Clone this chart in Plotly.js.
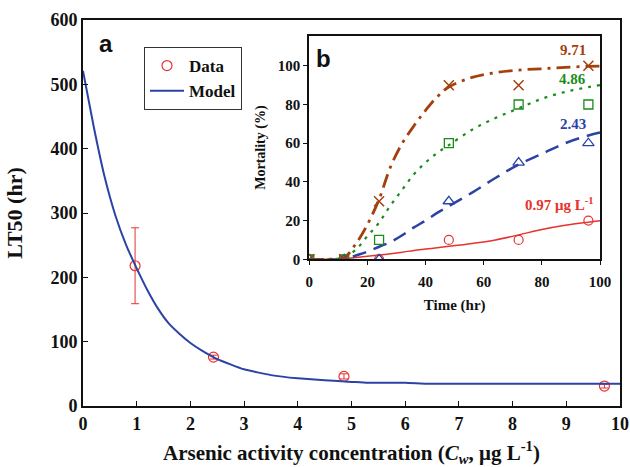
<!DOCTYPE html>
<html><head><meta charset="utf-8">
<script src="https://cdn.plot.ly/plotly-3.0.1.min.js"></script>
<style>html,body{margin:0;padding:0;background:#fff}#chart{width:630px;height:467px}</style>
</head><body><div id="chart"></div>
<script>
// Main panel (a)
const dataConc = [0.97, 2.43, 4.86, 9.71];
const dataLT50 = [218, 76, 46, 31];
const dataErr = [59, 3, 4, 3];
const modelConc = [0, 0.2, 0.4, 0.6, 0.8, 1.0, 1.2, 1.4, 1.6, 1.8, 2.0, 2.2, 2.5, 3.0, 3.5, 4.0, 4.5, 5.0, 5.3, 6.0, 6.4, 7, 8, 9, 10];
const modelLT50 = [521, 434, 357, 297, 251, 214, 180, 151, 128, 112, 98, 87, 73, 57, 48, 43, 40, 37.5, 36, 36, 34.5, 34.5, 34.5, 34.5, 34.5];
// Inset panel (b)
const obsTime = [0, 12, 24, 48, 72, 96];
const mort971 = [0, 0, 30, 90, 90, 100];
const mort486 = [0, 0, 10, 60, 80, 80];
const mort243 = [0, 0, 0, 30, 50, 60];
const mort097 = [0, 0, 0, 10, 10, 20];
const fitTime = [0, 6, 12, 16, 20, 24, 28, 32, 36, 40, 44, 48, 56, 64, 72, 80, 88, 96, 100];
const fit971 = [0, 0, 1, 8, 18, 31, 48, 60, 69, 77, 84, 89, 94, 96.5, 97.8, 98.5, 99.2, 99.7, 99.8];
const fit486 = [0, 0, 1, 5, 12, 19, 28, 36, 44, 50, 55, 59, 67, 73, 78, 83, 86.5, 89, 90];
const fit243 = [0, 0, 0, 2, 4, 6.5, 9, 12.5, 16.5, 20, 24, 27.5, 34.5, 42, 49, 54.5, 60, 64, 65.5];
const fit097 = [0, 0, 0.3, 1, 1.6, 2.2, 2.9, 3.7, 4.6, 5.3, 6, 6.7, 8.2, 10, 12.6, 15.4, 17.6, 19.2, 19.9];
const concLabels = ['9.71', '4.86', '2.43', '0.97 μg L<sup>-1</sup>'];

const RED = '#e8322e', BLUE = '#2c43a6', GREEN = '#1a8c1a', BROWN = '#a3400c';
const SERIF = 'Liberation Serif, Times New Roman, serif';

const traces = [
  {x: dataConc, y: dataLT50, type: 'scatter', mode: 'markers', name: 'Data',
   marker: {symbol: 'circle-open', size: 10, color: RED, line: {width: 1.2, color: RED}},
   error_y: {type: 'data', array: dataErr, visible: true, color: RED, thickness: 1, width: 4}},
  {x: modelConc, y: modelLT50, type: 'scatter', mode: 'lines', name: 'Model',
   line: {color: BLUE, width: 2, shape: 'spline', smoothing: 0.4}},
  // inset fits
  {x: fitTime, y: fit097, xaxis: 'x2', yaxis: 'y2', mode: 'lines', showlegend: false,
   line: {color: RED, width: 1.5, shape: 'spline'}},
  {x: fitTime, y: fit243, xaxis: 'x2', yaxis: 'y2', mode: 'lines', showlegend: false,
   line: {color: BLUE, width: 2.5, dash: '14px,8px', shape: 'spline'}},
  {x: fitTime, y: fit486, xaxis: 'x2', yaxis: 'y2', mode: 'lines', showlegend: false,
   line: {color: GREEN, width: 2.2, dash: '3px,6px', shape: 'spline'}},
  {x: fitTime, y: fit971, xaxis: 'x2', yaxis: 'y2', mode: 'lines', showlegend: false,
   line: {color: BROWN, width: 2.8, dash: '14px,6px,3px,6px', shape: 'spline'}},
  // inset observations
  {x: obsTime, y: mort097, xaxis: 'x2', yaxis: 'y2', mode: 'markers', showlegend: false,
   marker: {symbol: 'circle-open', size: 9, color: RED, line: {width: 1.2, color: RED}}},
  {x: obsTime, y: mort243, xaxis: 'x2', yaxis: 'y2', mode: 'markers', showlegend: false,
   marker: {symbol: 'triangle-up-open', size: 10, color: BLUE, line: {width: 1.3, color: BLUE}}},
  {x: obsTime, y: mort486, xaxis: 'x2', yaxis: 'y2', mode: 'markers', showlegend: false,
   marker: {symbol: 'square-open', size: 9, color: GREEN, line: {width: 1.3, color: GREEN}}},
  {x: obsTime, y: mort971, xaxis: 'x2', yaxis: 'y2', mode: 'markers', showlegend: false,
   marker: {symbol: 'x-thin-open', size: 10, color: BROWN, line: {width: 1.5, color: BROWN}}}
];

const inX0 = 0.4214, inX1 = 0.9628, inY0 = 0.380, inY1 = 0.959;

const layout = {
  width: 630, height: 467,
  margin: {l: 83, r: 10, t: 20, b: 61},
  paper_bgcolor: '#fff', plot_bgcolor: '#fff',
  showlegend: true,
  legend: {x: 0.1136, y: 0.93, xanchor: 'left', yanchor: 'top',
    bordercolor: '#333', borderwidth: 1, bgcolor: '#fff',
    font: {family: SERIF, size: 17, color: '#111', weight: 'bold'}, tracegroupgap: 0, itemwidth: 34},
  xaxis: {range: [0, 10], dtick: 1, showgrid: false, zeroline: false,
    showline: true, linecolor: '#111', linewidth: 2, mirror: true,
    ticks: 'inside', ticklen: 5, tickwidth: 1, tickcolor: '#111',
    tickfont: {family: SERIF, size: 18, color: '#111', weight: 'bold'},
    title: {text: 'Arsenic activity concentration (<i>C</i><sub><i>w</i></sub>, μg L<sup>-1</sup>)',
      font: {family: SERIF, size: 21, color: '#111', weight: 'bold'}, standoff: 14}},
  yaxis: {range: [0, 600], dtick: 100, showgrid: false, zeroline: false,
    showline: true, linecolor: '#111', linewidth: 2, mirror: true,
    ticks: 'inside', ticklen: 5, tickwidth: 1, tickcolor: '#111',
    tickfont: {family: SERIF, size: 18, color: '#111', weight: 'bold'},
    title: {text: 'LT50 (hr)', font: {family: SERIF, size: 22, color: '#111', weight: 'bold'}, standoff: 22}},
  xaxis2: {domain: [inX0, inX1], anchor: 'y2', range: [0, 100], dtick: 20, showgrid: false, zeroline: false,
    showline: true, linecolor: '#111', linewidth: 2, mirror: true,
    ticks: 'outside', ticklen: 4, tickwidth: 1, tickcolor: '#111', ticklabelstandoff: 4,
    tickfont: {family: SERIF, size: 15, color: '#111', weight: 'bold'},
    title: {text: 'Time (hr)', font: {family: SERIF, size: 15, color: '#111', weight: 'bold'}, standoff: 10}},
  yaxis2: {domain: [inY0, inY1], anchor: 'x2', range: [0, 115.5], tickvals: [0, 20, 40, 60, 80, 100],
    showgrid: false, zeroline: false,
    showline: true, linecolor: '#111', linewidth: 2, mirror: true,
    ticks: 'outside', ticklen: 4, tickwidth: 1, tickcolor: '#111',
    tickfont: {family: SERIF, size: 15, color: '#111', weight: 'bold'},
    title: {text: 'Mortality (%)', font: {family: SERIF, size: 14, color: '#111', weight: 'bold'}, standoff: 9}},
  annotations: [
    {text: 'a', xref: 'paper', yref: 'paper', x: 0.026, y: 0.94, xanchor: 'left', yanchor: 'middle', showarrow: false,
     font: {family: 'Liberation Sans, Arial, sans-serif', size: 24, color: '#111', weight: 'bold'}},
    {text: 'b', xref: 'x2', yref: 'y2', x: 1.5, y: 104, xanchor: 'left', yanchor: 'middle', showarrow: false,
     font: {family: 'Liberation Sans, Arial, sans-serif', size: 24, color: '#111', weight: 'bold'}},
    {text: concLabels[0], xref: 'x2', yref: 'y2', x: 90.7, y: 108, showarrow: false,
     font: {family: SERIF, size: 15, color: BROWN, weight: 'bold'}},
    {text: concLabels[1], xref: 'x2', yref: 'y2', x: 90.4, y: 93, showarrow: false,
     font: {family: SERIF, size: 15, color: GREEN, weight: 'bold'}},
    {text: concLabels[2], xref: 'x2', yref: 'y2', x: 90.7, y: 70, showarrow: false,
     font: {family: SERIF, size: 15, color: BLUE, weight: 'bold'}},
    {text: concLabels[3], xref: 'x2', yref: 'y2', x: 86.2, y: 28.6, showarrow: false,
     font: {family: SERIF, size: 15, color: RED, weight: 'bold'}}
  ]
};

Plotly.newPlot('chart', traces, layout, {displayModeBar: false, staticPlot: true});
</script>
</body></html>
